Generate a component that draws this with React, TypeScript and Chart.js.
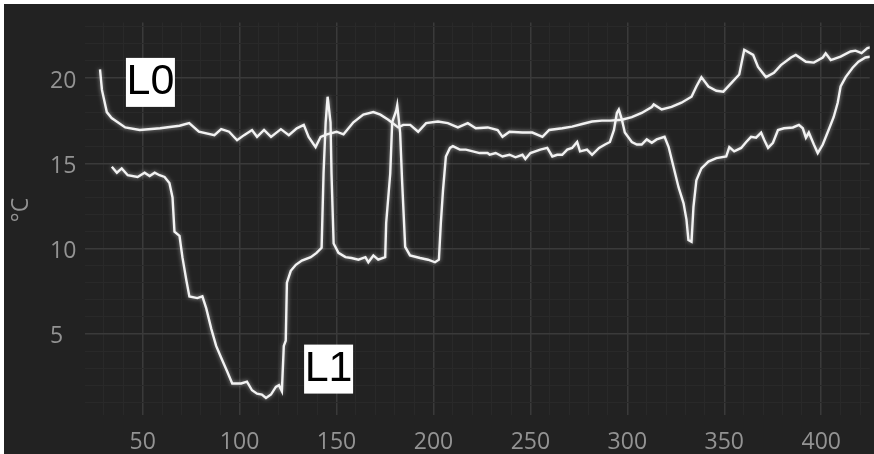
import React, { useEffect, useRef } from 'react';
import { Chart, registerables } from 'chart.js';

Chart.register(...registerables);

// ---- data ----
const l0X = [28, 29, 31.5, 34, 41, 48.5, 59, 69, 74, 79, 87, 90.5, 94.6, 98.7, 102.3, 106.4, 109, 112.6, 116.2, 121.3, 125.4, 129.5, 133.1, 135.6, 139.2, 141.8, 145, 150, 153.6, 158.7, 163.8, 169, 172.6, 176.7, 181.8, 184.4, 188, 192.1, 196.2, 202.3, 207.4, 212.6, 217.7, 221.8, 228, 233.1, 235.6, 239.2, 245.9, 251, 256.2, 259.7, 266.4, 271.5, 276.7, 281.8, 286.9, 291, 297.2, 302.3, 307.4, 312.6, 313.6, 317.7, 322.8, 327.9, 333.1, 335.6, 338.2, 341.8, 345.9, 349.5, 353.6, 357.7, 360.3, 364.9, 367.4, 371.5, 375.6, 379.2, 384.4, 386.9, 392.1, 396.2, 400.8, 402.3, 404.9, 410, 415.1, 417.7, 420.8, 423.8, 426];
const l0Y = [20.5, 19.3, 18.0, 17.65, 17.1, 16.95, 17.05, 17.2, 17.35, 16.85, 16.65, 17.0, 16.85, 16.35, 16.65, 16.95, 16.55, 16.95, 16.55, 17.0, 16.65, 17.05, 17.25, 16.55, 15.95, 16.55, 16.7, 16.85, 16.7, 17.4, 17.85, 18.0, 17.85, 17.55, 17.1, 17.25, 17.25, 16.85, 17.35, 17.45, 17.35, 17.1, 17.35, 17.05, 17.1, 16.95, 16.55, 16.85, 16.8, 16.8, 16.55, 16.95, 17.05, 17.15, 17.3, 17.45, 17.5, 17.5, 17.55, 17.7, 17.95, 18.3, 18.45, 18.15, 18.3, 18.55, 18.9, 19.5, 20.05, 19.5, 19.25, 19.2, 19.7, 20.2, 21.65, 21.35, 20.65, 20.05, 20.3, 20.75, 21.2, 21.35, 20.95, 20.9, 21.2, 21.45, 21.05, 21.25, 21.55, 21.6, 21.45, 21.75, 21.8];

const l1X = [34.1, 36.7, 39.2, 42.3, 47.4, 51.0, 53.6, 56.2, 58.7, 61.3, 63.8, 65.4, 66.4, 69.0, 70.5, 72.6, 74.1, 78.2, 80.8, 82.8, 85.4, 87.9, 90.5, 93.6, 96.2, 100.8, 103.8, 106.4, 109.0, 111.5, 113.6, 116.2, 118.7, 120.3, 121.8, 122.8, 123.8, 124.4, 126.4, 129.0, 132.1, 136.7, 139.7, 142.3, 143.3, 144.4, 145.4, 146.9, 147.4, 148.5, 151.0, 154.6, 157.7, 161.3, 164.9, 166.4, 169.0, 171.5, 175.1, 175.6, 177.7, 178.7, 180.8, 181.3, 182.8, 183.8, 185.4, 187.9, 193.1, 197.2, 200.8, 202.8, 203.8, 204.9, 206.4, 208.5, 210.0, 213.6, 216.7, 220.3, 223.8, 227.9, 229.0, 232.1, 235.6, 239.2, 242.3, 245.9, 247.4, 250.0, 255.1, 258.7, 261.3, 263.8, 266.4, 269.0, 271.5, 274.1, 275.6, 279.2, 281.8, 285.4, 288.5, 291.0, 293.1, 294.6, 295.6, 297.2, 298.7, 302.3, 304.9, 307.4, 310.0, 312.6, 315.1, 319.2, 321.3, 323.8, 326.4, 329.0, 330.5, 331.5, 333.1, 334.1, 335.6, 338.2, 341.8, 345.9, 351.0, 352.6, 355.1, 358.7, 361.3, 363.8, 366.4, 369.0, 370.5, 372.6, 375.1, 377.7, 380.8, 385.4, 388.5, 390.5, 392.1, 393.6, 396.2, 398.2, 400.8, 403.8, 406.4, 408.5, 410.0, 412.6, 416.2, 419.2, 422.8, 425.5];
const l1Y = [14.8, 14.45, 14.7, 14.3, 14.2, 14.45, 14.25, 14.45, 14.3, 14.2, 13.85, 13.0, 11.0, 10.75, 9.5, 8.1, 7.2, 7.1, 7.2, 6.5, 5.3, 4.3, 3.6, 2.8, 2.1, 2.1, 2.2, 1.7, 1.5, 1.45, 1.25, 1.45, 1.9, 2.0, 1.65, 4.3, 4.6, 8.0, 8.7, 9.05, 9.3, 9.5, 9.75, 10.05, 14.4, 17.4, 18.9, 17.4, 14.4, 10.3, 9.75, 9.5, 9.45, 9.35, 9.5, 9.2, 9.6, 9.35, 9.5, 11.5, 14.4, 17.4, 18.1, 18.4, 16.8, 14.0, 10.1, 9.6, 9.45, 9.35, 9.2, 9.35, 11.5, 13.4, 15.4, 15.9, 16.0, 15.8, 15.8, 15.7, 15.6, 15.6, 15.5, 15.6, 15.4, 15.5, 15.35, 15.5, 15.25, 15.6, 15.8, 15.9, 15.4, 15.5, 15.5, 15.8, 15.9, 16.25, 15.7, 15.8, 15.5, 15.9, 16.1, 16.25, 16.95, 17.95, 18.15, 17.55, 16.8, 16.25, 16.1, 16.1, 16.4, 16.2, 16.4, 16.55, 15.95, 14.8, 13.6, 12.65, 11.7, 10.5, 10.4, 12.45, 14.0, 14.7, 15.1, 15.3, 15.4, 15.95, 15.7, 15.9, 16.25, 16.55, 16.5, 16.8, 16.4, 15.9, 16.2, 16.95, 17.05, 17.1, 17.25, 17.05, 16.5, 16.8, 16.1, 15.6, 16.1, 16.95, 17.7, 18.55, 19.5, 20.05, 20.6, 20.95, 21.2, 21.25];

const seriesNames = ['L0', 'L1'];
const labelAnchorX = [54.0, 145.9];
const labelAnchorY = [19.74, 2.94];

const xTickLabels = [50, 100, 150, 200, 250, 300, 350, 400];
const yTickLabels = [5, 10, 15, 20];
const xMinorStep = 10;
const yMinorStep = 1;
const yTitle = '°C';

// ---- style ----
const BG = '#222222';
const LINE = '#f2f2f2';
const GRID_MAJOR = '#3a3a3a';
const GRID_MINOR = '#292929';
const TEXT = '#939393';
const TICK_FONT = { family: '"Open Sans", "Noto Sans", sans-serif', size: 23 };

const X_MIN = 20, X_MAX = 425, Y_MIN = 0.25, Y_MAX = 23.25;

function gridValues(min: number, max: number, step: number) {
  const out: number[] = [];
  for (let v = Math.ceil(min / step) * step; v <= max; v += step) {
    if (v > min) out.push(v);
  }
  return out;
}

const overlayPlugin = {
  id: 'overlay',
  beforeDatasetsDraw(chart: any) {
    const { ctx } = chart;
    ctx.save();
    ctx.shadowColor = 'rgba(255,255,255,0.55)';
    ctx.shadowBlur = 4;
  },
  afterDatasetsDraw(chart: any) {
    const { ctx, scales } = chart;
    ctx.restore();
    ctx.save();
    // series name boxes
    seriesNames.forEach((name, i) => {
      const cx = scales.x.getPixelForValue(labelAnchorX[i]);
      const cy = scales.y.getPixelForValue(labelAnchorY[i]);
      const s = 49;
      ctx.fillStyle = '#ffffff';
      ctx.fillRect(cx - s / 2, cy - s / 2, s, s);
      ctx.fillStyle = '#000000';
      ctx.font = '43px "Liberation Sans", Arial, sans-serif';
      ctx.textAlign = 'center';
      ctx.textBaseline = 'middle';
      ctx.fillText(name, cx, cy);
    });
    ctx.restore();
  },
  afterDraw(chart: any) {
    const { ctx } = chart;
    ctx.save();
    ctx.translate(17, 206);
    ctx.rotate(-Math.PI / 2);
    ctx.fillStyle = TEXT;
    ctx.font = '23px "Open Sans", "Noto Sans", sans-serif';
    ctx.textAlign = 'center';
    ctx.textBaseline = 'middle';
    ctx.fillText(yTitle, 0, 0);
    ctx.restore();
  },
};

export default function App() {
  const ref = useRef<HTMLCanvasElement>(null);

  useEffect(() => {
    document.body.style.margin = '0';
    const canvas = ref.current;
    if (!canvas) return;
    const chart = new Chart(canvas, {
      type: 'line',
      data: {
        datasets: [
          {
            label: seriesNames[0],
            data: l0X.map((x, i) => ({ x, y: l0Y[i] })),
            borderColor: LINE,
            borderWidth: 2.4,
            pointRadius: 0,
            tension: 0,
          },
          {
            label: seriesNames[1],
            data: l1X.map((x, i) => ({ x, y: l1Y[i] })),
            borderColor: LINE,
            borderWidth: 2.4,
            pointRadius: 0,
            tension: 0,
          },
        ],
      },
      options: {
        responsive: false,
        animation: false,
        devicePixelRatio: 1,
        layout: { padding: { left: 46, top: 18.5, right: 0, bottom: 0 } },
        plugins: { legend: { display: false }, tooltip: { enabled: false } },
        scales: {
          x: {
            type: 'linear',
            min: X_MIN,
            max: X_MAX,
            afterBuildTicks: (s: any) => {
              s.ticks = gridValues(X_MIN, X_MAX, xMinorStep).map((v) => ({ value: v }));
            },
            afterFit: (s: any) => {
              s.height = 39;
            },
            ticks: {
              autoSkip: false,
              maxRotation: 0,
              padding: 14,
              color: TEXT,
              font: TICK_FONT,
              callback: (v: any) => (xTickLabels.includes(Number(v)) ? String(v) : ''),
            },
            grid: {
              drawTicks: false,
              color: (c: any) => (c.tick && xTickLabels.includes(c.tick.value) ? GRID_MAJOR : GRID_MINOR),
              lineWidth: (c: any) => (c.tick && xTickLabels.includes(c.tick.value) ? 1.5 : 1),
            },
            border: { display: false },
          },
          y: {
            type: 'linear',
            min: Y_MIN,
            max: Y_MAX,
            afterBuildTicks: (s: any) => {
              s.ticks = gridValues(Y_MIN, Y_MAX, yMinorStep).map((v) => ({ value: v }));
            },
            afterFit: (s: any) => {
              s.width = 34.5;
            },
            ticks: {
              autoSkip: false,
              padding: 0,
              crossAlign: 'far',
              labelOffset: 3,
              color: TEXT,
              font: TICK_FONT,
              callback: (v: any) => (yTickLabels.includes(Number(v)) ? String(v) : ''),
            },
            grid: {
              drawTicks: false,
              color: (c: any) => (c.tick && yTickLabels.includes(c.tick.value) ? GRID_MAJOR : GRID_MINOR),
              lineWidth: (c: any) => (c.tick && yTickLabels.includes(c.tick.value) ? 1.5 : 1),
            },
            border: { display: false },
          },
        },
      },
      plugins: [overlayPlugin],
    } as any);
    return () => chart.destroy();
  }, []);

  return (
    <div style={{ position: 'absolute', left: 0, top: 0, width: 874, height: 454, background: '#ffffff', overflow: 'hidden' }}>
      <canvas
        ref={ref}
        width={870}
        height={450}
        style={{ position: 'absolute', left: 4, top: 4, width: 870, height: 450, background: BG }}
      />
    </div>
  );
}
